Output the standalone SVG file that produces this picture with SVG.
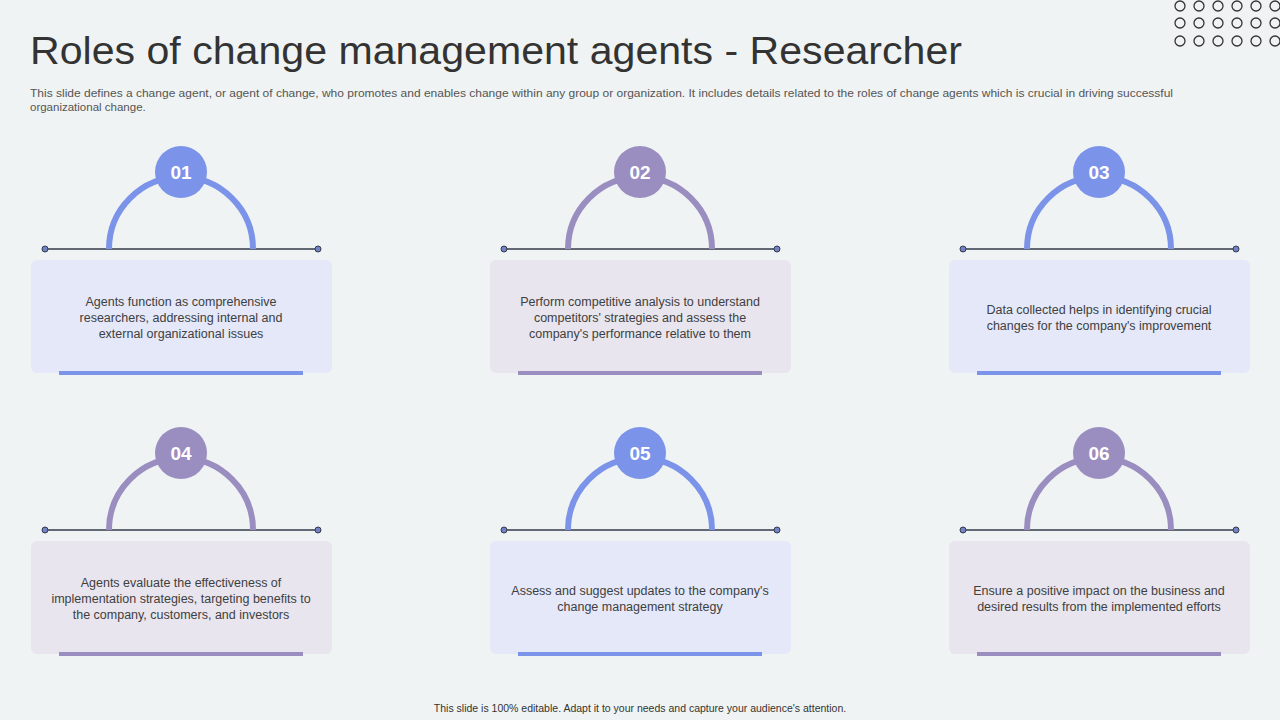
<svg xmlns="http://www.w3.org/2000/svg" width="1280" height="720" viewBox="0 0 1280 720">
<defs>
<style>
.t{font-family:"Liberation Sans",Arial,sans-serif;fill:#404040;font-size:12.5px;text-anchor:middle}
.n{font-family:"Liberation Sans",Arial,sans-serif;fill:#fff;font-size:19px;font-weight:bold;text-anchor:middle}
.dot{fill:none;stroke:#333;stroke-width:1.3}
.ln{stroke:#333a4a;stroke-width:1.3}
.ep{fill:#7282c4;stroke:#333a4a;stroke-width:1}
.b{--c:#7b93e8;--f:#e4e8f9}
.p{--c:#9a8dc0;--f:#e8e5ee}
.arc{fill:none;stroke-width:6;stroke:var(--c)}
.bad,.bar{fill:var(--c)}
.card{fill:var(--f)}
</style>
<g id="unit">
<line class="ln" x1="45" y1="249" x2="318" y2="249"/>
<path class="arc" d="M109,249 A72,72 0 0 1 253,249"/>
<circle class="ep" cx="45" cy="249" r="3"/><circle class="ep" cx="318" cy="249" r="3"/>
<rect class="card" x="31" y="260" width="301" height="113" rx="6"/>
<rect class="bar" x="59" y="371" width="244" height="4"/>
<circle class="bad" cx="181" cy="172" r="26"/>
</g>
</defs>
<rect width="1280" height="720" fill="#f0f3f4"/>
<text x="30" y="64" font-family="'Century Gothic','Liberation Sans',sans-serif" font-size="38" fill="#333" textLength="932" lengthAdjust="spacingAndGlyphs">Roles of change management agents - Researcher</text>
<text font-family="Liberation Sans,Arial,sans-serif" font-size="11.5" fill="#555"><tspan x="30" y="97" textLength="1143" lengthAdjust="spacingAndGlyphs">This slide defines a change agent, or agent of change, who promotes and enables change within any group or organization. It includes details related to the roles of change agents which is crucial in driving successful</tspan><tspan x="30" y="111">organizational change.</tspan></text>
<g id="dots">
<circle class="dot" cx="1180" cy="6" r="5"/><circle class="dot" cx="1199" cy="6" r="5"/><circle class="dot" cx="1218" cy="6" r="5"/><circle class="dot" cx="1237" cy="6" r="5"/><circle class="dot" cx="1256" cy="6" r="5"/><circle class="dot" cx="1275" cy="6" r="5"/>
<circle class="dot" cx="1180" cy="23" r="5"/><circle class="dot" cx="1199" cy="23" r="5"/><circle class="dot" cx="1218" cy="23" r="5"/><circle class="dot" cx="1237" cy="23" r="5"/><circle class="dot" cx="1256" cy="23" r="5"/><circle class="dot" cx="1275" cy="23" r="5"/>
<circle class="dot" cx="1180" cy="41" r="5"/><circle class="dot" cx="1199" cy="41" r="5"/><circle class="dot" cx="1218" cy="41" r="5"/><circle class="dot" cx="1237" cy="41" r="5"/><circle class="dot" cx="1256" cy="41" r="5"/><circle class="dot" cx="1275" cy="41" r="5"/>
</g>
<g id="node1" class="b"><use href="#unit"/><text class="n" x="181" y="179">01</text>
<text class="t"><tspan x="181" y="306">Agents function as comprehensive</tspan><tspan x="181" y="322">researchers, addressing internal and</tspan><tspan x="181" y="338">external organizational issues</tspan></text></g>
<g id="node2" class="p" transform="translate(459,0)"><use href="#unit"/><text class="n" x="181" y="179">02</text>
<text class="t"><tspan x="181" y="306">Perform competitive analysis to understand</tspan><tspan x="181" y="322">competitors' strategies and assess the</tspan><tspan x="181" y="338">company's performance relative to them</tspan></text></g>
<g id="node3" class="b" transform="translate(918,0)"><use href="#unit"/><text class="n" x="181" y="179">03</text>
<text class="t"><tspan x="181" y="314">Data collected helps in identifying crucial</tspan><tspan x="181" y="330">changes for the company's improvement</tspan></text></g>
<g id="node4" class="p" transform="translate(0,281)"><use href="#unit"/><text class="n" x="181" y="179">04</text>
<text class="t"><tspan x="181" y="306">Agents evaluate the effectiveness of</tspan><tspan x="181" y="322">implementation strategies, targeting benefits to</tspan><tspan x="181" y="338">the company, customers, and investors</tspan></text></g>
<g id="node5" class="b" transform="translate(459,281)"><use href="#unit"/><text class="n" x="181" y="179">05</text>
<text class="t"><tspan x="181" y="314">Assess and suggest updates to the company's</tspan><tspan x="181" y="330">change management strategy</tspan></text></g>
<g id="node6" class="p" transform="translate(918,281)"><use href="#unit"/><text class="n" x="181" y="179">06</text>
<text class="t"><tspan x="181" y="314">Ensure a positive impact on the business and</tspan><tspan x="181" y="330">desired results from the implemented efforts</tspan></text></g>
<g id="connectors"/>
<text x="640" y="712" font-family="Liberation Sans,Arial,sans-serif" font-size="10.5" fill="#333" text-anchor="middle">This slide is 100% editable. Adapt it to your needs and capture your audience's attention.</text>
</svg>
